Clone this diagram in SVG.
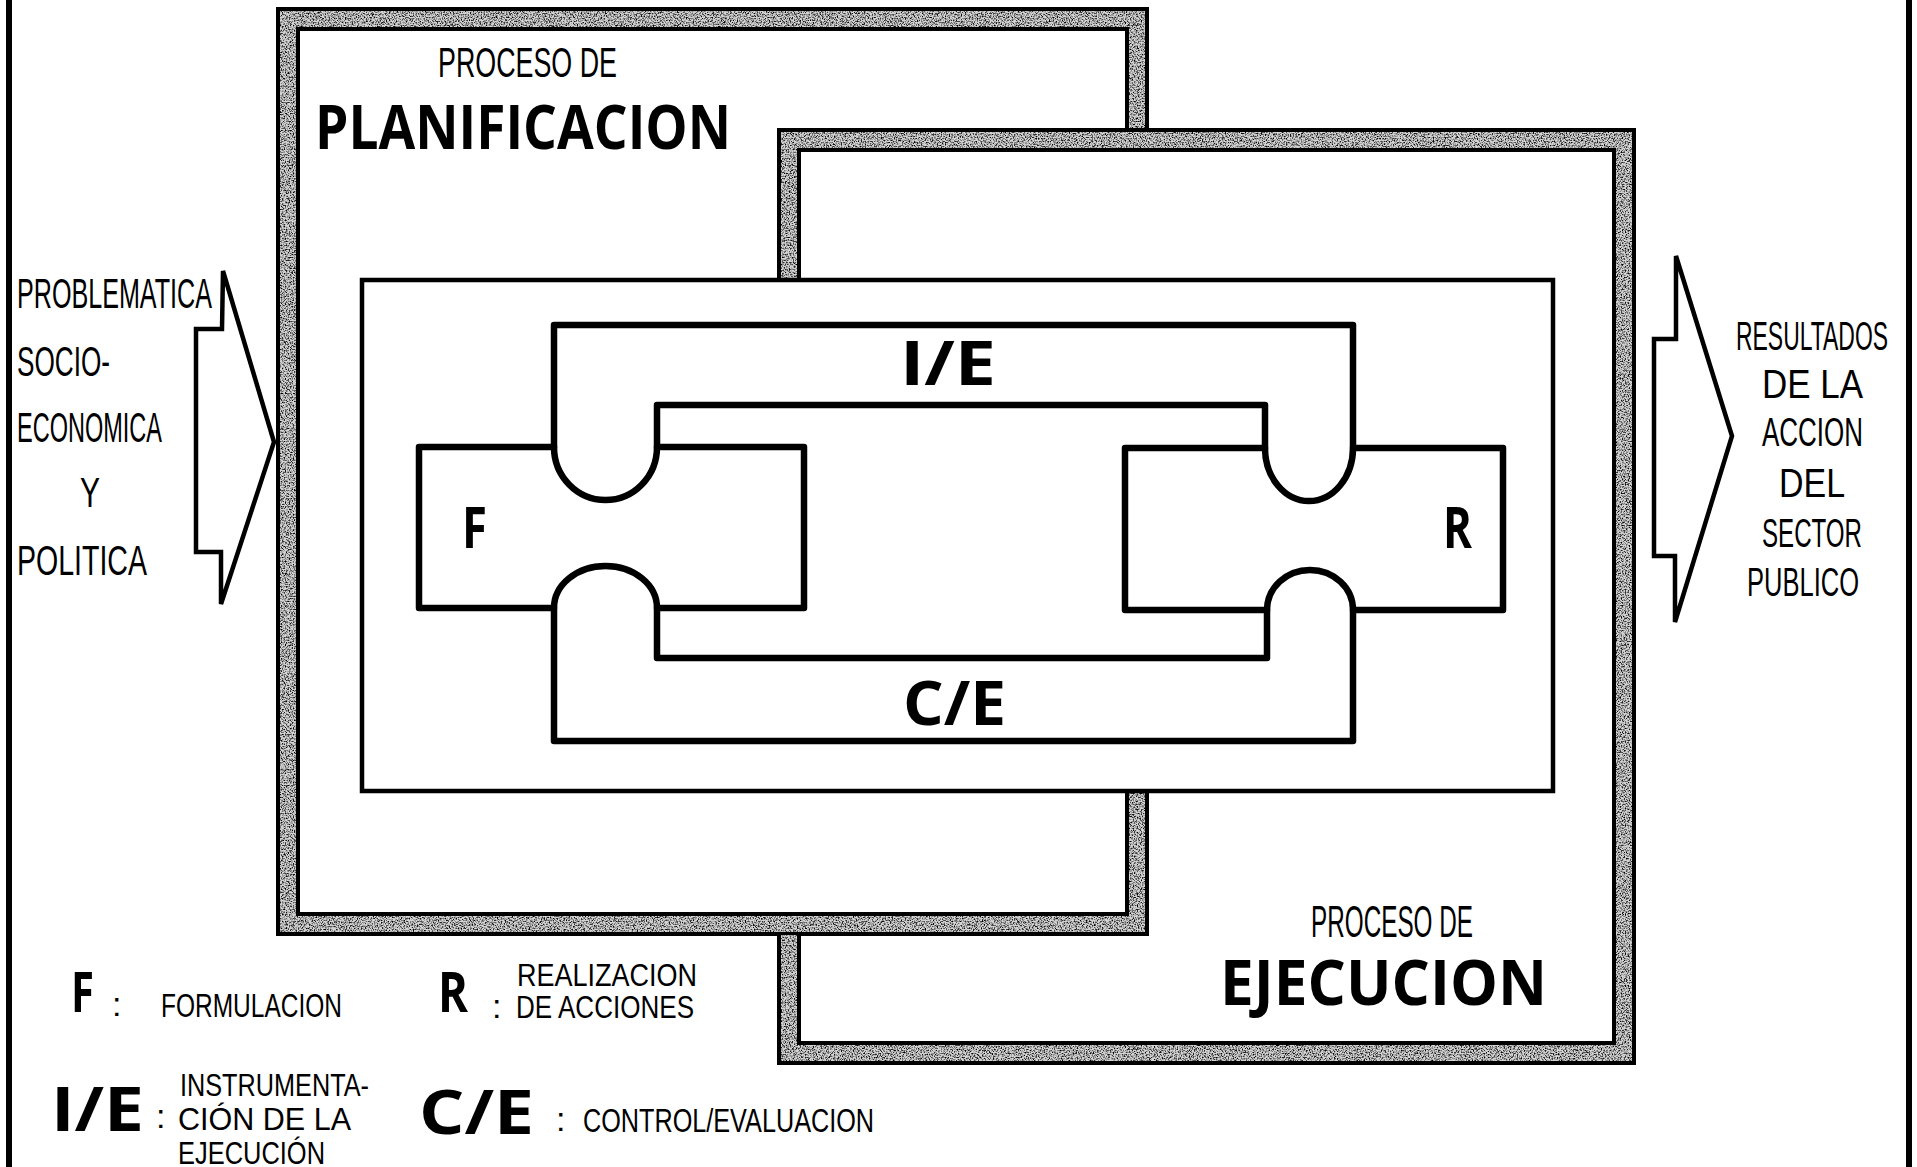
<svg xmlns="http://www.w3.org/2000/svg" width="1917" height="1167" viewBox="0 0 1917 1167">
<style>
  .bg{fill:#ffffff}
  .edge{fill:none;stroke:#000;stroke-width:24;stroke-linejoin:miter}
  .fill{fill:none;stroke:#d4d4d4;stroke-width:16;stroke-linejoin:miter}
  .spk{fill:none;stroke:#000;stroke-width:17;stroke-linejoin:miter}
  .ln{fill:none;stroke:#000;stroke-width:6.5;stroke-linejoin:round;stroke-linecap:round}
  .thin{fill:none;stroke:#000;stroke-width:4.5;stroke-linejoin:miter}
  .pg{fill:none;stroke:#000;stroke-width:6}
  .big{font-family:"Open Sans","Liberation Sans",sans-serif;font-weight:700;fill:#000}
  .cond{font-family:"Liberation Sans",Arial,sans-serif;fill:#000}
</style>
<defs>
  <filter id="grain" filterUnits="userSpaceOnUse" x="0" y="0" width="1917" height="1167">
    <feTurbulence type="fractalNoise" baseFrequency="0.75" numOctaves="2" seed="7" result="noise"/>
    <feColorMatrix in="noise" type="matrix" values="0 0 0 0 0  0 0 0 0 0  0 0 0 0 0  3.2 0 0 0 -1.4" result="spots"/>
    <feComposite in="spots" in2="SourceAlpha" operator="in"/>
  </filter>
</defs>
<rect class="bg" x="0" y="0" width="1917" height="1167"/>

<g id="page-lines">
  <line class="pg" x1="9" y1="0" x2="9" y2="1167"/>
  <line class="pg" x1="1909" y1="0" x2="1909" y2="1167"/>
</g>

<g id="proceso-planificacion">
  <path class="edge" d="M1137 792 V924 H288 V19 H1137 V128"/>
  <path class="fill" d="M1137 792 V924 H288 V19 H1137 V128"/>
  <path class="spk" filter="url(#grain)" d="M1137 792 V924 H288 V19 H1137 V128"/>
  <text class="cond" x="438" y="77" font-size="43" textLength="179" lengthAdjust="spacingAndGlyphs">PROCESO DE</text>
  <text class="big" x="315" y="149" font-size="60" textLength="416" lengthAdjust="spacingAndGlyphs">PLANIFICACION</text>
</g>

<g id="proceso-ejecucion">
  <path class="edge" d="M789 279 V140 H1624 V1053 H789 V935"/>
  <path class="fill" d="M789 279 V140 H1624 V1053 H789 V935"/>
  <path class="spk" filter="url(#grain)" d="M789 279 V140 H1624 V1053 H789 V935"/>
  <text class="cond" x="1311" y="937" font-size="44" textLength="162" lengthAdjust="spacingAndGlyphs">PROCESO DE</text>
  <text class="big" x="1220" y="1005" font-size="62" textLength="327" lengthAdjust="spacingAndGlyphs">EJECUCION</text>
</g>

<g id="ciclo">
  <rect class="thin" x="362" y="280" width="1191" height="511"/>
</g>

<g id="F">
  <path class="ln" d="M419 447 H554 A51.5 53 0 0 0 657 447 H804 V608 H657 A51.5 42 0 0 0 554 608 H419 Z"/>
  <text class="big" x="462" y="548" font-size="58" textLength="25" lengthAdjust="spacingAndGlyphs">F</text>
</g>

<g id="R">
  <path class="ln" d="M1125 448 H1265 A44 53 0 0 0 1353 448 H1503 V610 H1353 A43 40 0 0 0 1267 610 H1125 Z"/>
  <text class="big" x="1443" y="548" font-size="58" textLength="29" lengthAdjust="spacingAndGlyphs">R</text>
</g>

<g id="IE">
  <path class="ln" d="M554 447 V325 H1353 V448 M1265 448 V405 H657 V447"/>
  <text class="big" x="900" y="385" font-size="60" textLength="96" lengthAdjust="spacingAndGlyphs">I/E</text>
</g>

<g id="CE">
  <path class="ln" d="M554 608 V741 H1353 V610 M1267 610 V658 H657 V608"/>
  <text class="big" x="903" y="725" font-size="60" textLength="103" lengthAdjust="spacingAndGlyphs">C/E</text>
</g>

<g id="connectors">
  <polygon class="thin" points="223,271 274,442 221,604 221,552 196,552 196,329 222,329"/>
  <polygon class="thin" points="1676,256 1732,436 1675,622 1675,556 1654,556 1654,339 1676,339"/>
</g>

<g id="entrada">
  <text class="cond" x="17" y="308" font-size="42" textLength="195" lengthAdjust="spacingAndGlyphs">PROBLEMATICA</text>
  <text class="cond" x="17" y="376" font-size="42" textLength="93" lengthAdjust="spacingAndGlyphs">SOCIO-</text>
  <text class="cond" x="17" y="442" font-size="42" textLength="145" lengthAdjust="spacingAndGlyphs">ECONOMICA</text>
  <text class="cond" x="80" y="507" font-size="42" textLength="20" lengthAdjust="spacingAndGlyphs">Y</text>
  <text class="cond" x="17" y="575" font-size="42" textLength="130" lengthAdjust="spacingAndGlyphs">POLITICA</text>
</g>

<g id="salida">
  <text class="cond" x="1736" y="350" font-size="40" textLength="152" lengthAdjust="spacingAndGlyphs">RESULTADOS</text>
  <text class="cond" x="1762" y="398" font-size="40" textLength="101" lengthAdjust="spacingAndGlyphs">DE  LA</text>
  <text class="cond" x="1762" y="446" font-size="40" textLength="101" lengthAdjust="spacingAndGlyphs">ACCION</text>
  <text class="cond" x="1779" y="497" font-size="40" textLength="66" lengthAdjust="spacingAndGlyphs">DEL</text>
  <text class="cond" x="1762" y="547" font-size="40" textLength="100" lengthAdjust="spacingAndGlyphs">SECTOR</text>
  <text class="cond" x="1747" y="596" font-size="40" textLength="112" lengthAdjust="spacingAndGlyphs">PUBLICO</text>
</g>

<g id="leyenda">
  <text class="big" x="71" y="1012" font-size="56" textLength="23" lengthAdjust="spacingAndGlyphs">F</text>
  <text class="cond" x="112" y="1016" font-size="34">:</text>
  <text class="cond" x="161" y="1017" font-size="33" textLength="181" lengthAdjust="spacingAndGlyphs">FORMULACION</text>
  <text class="big" x="438" y="1012" font-size="56" textLength="30" lengthAdjust="spacingAndGlyphs">R</text>
  <text class="cond" x="492" y="1018" font-size="34">:</text>
  <text class="cond" x="517" y="986" font-size="32" textLength="180" lengthAdjust="spacingAndGlyphs">REALIZACION</text>
  <text class="cond" x="516" y="1018" font-size="32" textLength="178" lengthAdjust="spacingAndGlyphs">DE ACCIONES</text>
  <text class="big" x="51" y="1131" font-size="60" textLength="93" lengthAdjust="spacingAndGlyphs">I/E</text>
  <text class="cond" x="156" y="1128" font-size="34">:</text>
  <text class="cond" x="180" y="1096" font-size="32" textLength="189" lengthAdjust="spacingAndGlyphs">INSTRUMENTA-</text>
  <text class="cond" x="178" y="1130" font-size="32" textLength="173" lengthAdjust="spacingAndGlyphs">CIÓN DE  LA</text>
  <text class="cond" x="178" y="1164" font-size="32" textLength="147" lengthAdjust="spacingAndGlyphs">EJECUCIÓN</text>
  <text class="big" x="419" y="1134" font-size="60" textLength="115" lengthAdjust="spacingAndGlyphs">C/E</text>
  <text class="cond" x="556" y="1131" font-size="34">:</text>
  <text class="cond" x="583" y="1132" font-size="33" textLength="291" lengthAdjust="spacingAndGlyphs">CONTROL/EVALUACION</text>
</g>
</svg>
